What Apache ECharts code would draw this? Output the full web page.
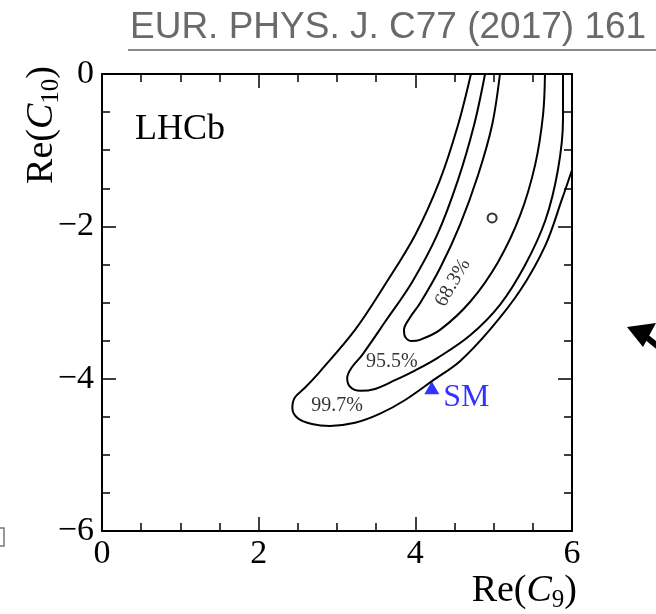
<!DOCTYPE html>
<html>
<head>
<meta charset="utf-8">
<script src="https://cdn.jsdelivr.net/npm/echarts@6/dist/echarts.min.js"></script>
<style>
  html, body { margin: 0; padding: 0; background: #fff; }
  #main { width: 656px; height: 614px; }
</style>
</head>
<body>
<div id="main"></div>
<script>
// 轮廓线数据 (Re(C9), Re(C10))
var contour997 = [
    [4.71, 0], [4.545, -0.67], [4.315, -1.39], [4.00, -2.11], [3.61, -2.77],
    [3.23, -3.36], [2.78, -3.91], [2.59, -4.12], [2.46, -4.25], [2.43, -4.385],
    [2.50, -4.52], [2.68, -4.595], [2.91, -4.62], [3.23, -4.58], [3.55, -4.46],
    [3.87, -4.28], [4.23, -4.02], [4.57, -3.77], [4.95, -3.36], [5.34, -2.84],
    [5.66, -2.25], [5.87, -1.65], [6.0, -1.26]
];
var contour955 = [
    [4.89, 0], [4.75, -0.67], [4.545, -1.39], [4.28, -2.11], [3.96, -2.73],
    [3.61, -3.26], [3.32, -3.69], [3.19, -3.85], [3.13, -3.99], [3.17, -4.11],
    [3.295, -4.16], [3.485, -4.135], [3.74, -4.02], [4.00, -3.89], [4.28, -3.73],
    [4.70, -3.43], [5.08, -3.03], [5.40, -2.51], [5.66, -1.92], [5.82, -1.26],
    [5.885, -0.60], [5.885, 0]
];
var contour683 = [
    [5.08, 0], [4.98, -0.67], [4.80, -1.33], [4.57, -1.98], [4.315, -2.55],
    [4.06, -3.01], [3.93, -3.20], [3.855, -3.36], [3.87, -3.45], [3.945, -3.505],
    [4.06, -3.49], [4.315, -3.36], [4.70, -2.99], [5.055, -2.47], [5.34, -1.85],
    [5.53, -1.19], [5.63, -0.54], [5.655, 0]
];
var contourLabels = [
    [4.48, -2.74, '68.3%'],
    [3.70, -3.78, '95.5%'],
    [3.00, -4.35, '99.7%']
];
var bestFit = [[4.98, -1.89]];
var smPoint = [[4.21, -4.12]];
var xTicks = [0, 2, 4, 6];
var yTicks = [0, -2, -4, -6];

var myChart = echarts.init(document.getElementById('main'));

var serif = '"Liberation Serif", "DejaVu Serif", serif';

function minusFmt(v) {
    return v < 0 ? '\u2212' + (-v) : String(v);
}

function axisBase(showLabel) {
    return {
        type: 'value',
        axisLine: { onZero: false, lineStyle: { color: '#000', width: 2 } },
        axisTick: { show: true, inside: true, length: 14, lineStyle: { color: '#000', width: 1.5 } },
        minorTick: { show: true, splitNumber: 4, length: 8, lineStyle: { color: '#000', width: 1.5 } },
        splitLine: { show: false },
        minorSplitLine: { show: false },
        axisLabel: {
            show: showLabel,
            color: '#000',
            fontFamily: serif,
            fontSize: 34,
            formatter: minusFmt
        }
    };
}

var xBottom = axisBase(true);
xBottom.position = 'bottom';
xBottom.min = xTicks[0];
xBottom.max = xTicks[xTicks.length - 1];
xBottom.interval = 2;
xBottom.axisLabel.margin = 6;

var xTop = axisBase(false);
xTop.position = 'top';
xTop.min = xTicks[0];
xTop.max = xTicks[xTicks.length - 1];
xTop.interval = 2;

var yLeft = axisBase(true);
yLeft.position = 'left';
yLeft.min = yTicks[yTicks.length - 1];
yLeft.max = yTicks[0];
yLeft.interval = 2;
yLeft.axisLabel.margin = 8;

var yRight = axisBase(false);
yRight.position = 'right';
yRight.min = yTicks[yTicks.length - 1];
yRight.max = yTicks[0];
yRight.interval = 2;

function contourSeries(data) {
    return {
        type: 'line',
        data: data,
        smooth: 0.35,
        showSymbol: false,
        symbol: 'none',
        lineStyle: { color: '#000', width: 2 },
        z: 3
    };
}

var titleRich = {
    r: { fontFamily: serif, fontSize: 38, fill: '#000', lineHeight: 44, verticalAlign: 'middle' },
    i: { fontFamily: serif, fontSize: 38, fontStyle: 'italic', fill: '#000', lineHeight: 44, verticalAlign: 'middle' },
    s: { fontFamily: serif, fontSize: 25, fill: '#000', lineHeight: 25, verticalAlign: 'bottom' }
};

var option = {
    backgroundColor: '#fff',
    animation: false,
    grid: { left: 102, right: 84, top: 74, bottom: 83, containLabel: false },
    xAxis: [xBottom, xTop],
    yAxis: [yLeft, yRight],
    graphic: [
        // 顶部标题
        {
            type: 'text', left: 130, top: 9,
            style: { text: 'EUR. PHYS. J. C77 (2017) 161', fill: '#6a6a6a',
                     font: '37px "Liberation Sans", Arial, sans-serif' }
        },
        {
            type: 'line', shape: { x1: 128, y1: 50, x2: 656, y2: 50 },
            style: { stroke: '#8a8a8a', lineWidth: 2 }
        },
        // LHCb
        {
            type: 'text', left: 135, top: 112,
            style: { text: 'LHCb', fill: '#000', font: '36px ' + serif }
        },
        // y 轴标题
        {
            type: 'text', x: 42, y: 125, rotation: Math.PI / 2,
            style: {
                text: '{r|Re(}{i|C}{s|10}{r|)}',
                align: 'center', verticalAlign: 'middle',
                rich: titleRich
            }
        },
        // x 轴标题
        {
            type: 'text', x: 577, y: 591,
            style: {
                text: '{r|Re(}{i|C}{s|9}{r|)}',
                align: 'right', verticalAlign: 'middle',
                rich: titleRich
            }
        },
        // 右侧箭头
        {
            type: 'polygon',
            shape: { points: [[627, 327], [656, 323], [643, 347]] },
            style: { fill: '#000' }
        },
        {
            type: 'line', shape: { x1: 640, y1: 332, x2: 660, y2: 348 },
            style: { stroke: '#000', lineWidth: 6 }
        },
        // 左下角残留框
        {
            type: 'polyline', shape: { points: [[-2, 528], [4, 528], [4, 546], [-2, 546]] },
            style: { stroke: '#777', lineWidth: 1.5, fill: null }
        }
    ],
    series: [
        contourSeries(contour997),
        contourSeries(contour955),
        contourSeries(contour683),
        {
            type: 'scatter',
            data: contourLabels.map(function (d) {
                return { value: d, label: { rotate: d[2] === '68.3%' ? 60 : 0 } };
            }),
            symbolSize: 0,
            label: {
                show: true,
                position: 'inside',
                color: '#000',
                fontFamily: serif,
                fontSize: 20,
                formatter: function (p) { return p.value[2]; }
            },
            z: 4
        },
        {
            type: 'scatter',
            data: bestFit,
            symbol: 'circle',
            symbolSize: 9,
            itemStyle: { color: '#fff', borderColor: '#000', borderWidth: 2 },
            z: 5
        },
        {
            type: 'scatter',
            data: smPoint,
            symbol: 'triangle',
            symbolSize: [15, 13],
            itemStyle: { color: '#0000ff' },
            label: {
                show: true,
                position: 'right',
                distance: 4,
                offset: [0, 10],
                formatter: 'SM',
                color: '#0000ff',
                fontFamily: serif,
                fontSize: 32
            },
            z: 5
        }
    ]
};

myChart.setOption(option);
</script>
</body>
</html>
